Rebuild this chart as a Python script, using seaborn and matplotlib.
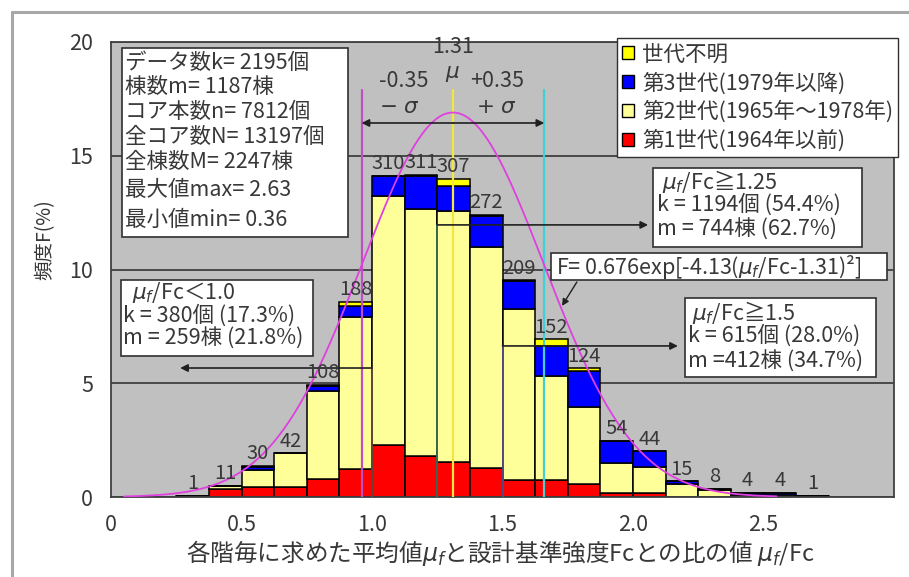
import numpy as np
import pandas as pd
import matplotlib
matplotlib.use("Agg")
import matplotlib.pyplot as plt
from matplotlib.patches import Rectangle, Patch
from matplotlib.lines import Line2D
import seaborn as sns

# ---- data -------------------------------------------------------------
# left edges of the mu_f/Fc classes (class width 0.125)
bin_left = [0.25, 0.375, 0.5, 0.625, 0.75, 0.875, 1.0, 1.125, 1.25, 1.375,
            1.5, 1.625, 1.75, 1.875, 2.0, 2.125, 2.25, 2.375, 2.5, 2.625]
bin_width = 0.125

# number of data (floors) per class and construction generation
gen1 = [0, 8, 10, 10, 17, 27, 50, 40, 34, 28, 16, 16, 13, 4, 4, 0, 0, 0, 0, 0]
gen2 = [1, 3, 16, 32, 85, 147, 240, 238, 242, 213, 165, 101, 74, 29, 25, 13, 7, 2, 2, 1]
gen3 = [0, 0, 3, 0, 5, 10, 20, 32, 24, 30, 27, 29, 35, 21, 15, 2, 1, 2, 2, 0]
gen_unknown = [0, 0, 1, 0, 1, 4, 0, 1, 7, 1, 1, 6, 2, 0, 0, 0, 0, 0, 0, 0]

generation_labels = ["世代不明", "第3世代(1979年以降)",
                     "第2世代(1965年～1978年)", "第1世代(1964年以前)"]
generation_colors = ["#FFFF00", "#0000FF", "#FFFF99", "#FF0000"]

# fitted normal curve  F = 0.676 exp[-4.13 (x - 1.31)^2]
mean_ratio = 1.31
sigma = 0.35
fit_amp = 0.676
fit_coef = 4.13
curve_scale = 25.0  # curve drawn on the percent axis

x_ticks = [0, 0.5, 1.0, 1.5, 2.0, 2.5]
x_tick_labels = ["0", "0.5", "1.0", "1.5", "2.0", "2.5"]
y_ticks = [0, 5, 10, 15, 20]
y_tick_labels = ["0", "5", "10", "15", "20"]

stats_lines = ["データ数k= 2195個", "棟数m= 1187棟", "コア本数n= 7812個",
               "全コア数N= 13197個", "全棟数M= 2247棟", "最大値max= 2.63",
               "最小値min= 0.36"]

# ---- style ------------------------------------------------------------
sns.set_style("white")
plt.rcParams["font.family"] = ["Noto Sans CJK JP", "DejaVu Sans"]
plt.rcParams["mathtext.fontset"] = "dejavusans"
TXT = "#383838"
FS = 15.5

counts = np.array([gen_unknown, gen3, gen2, gen1], dtype=float)
totals = counts.sum(axis=0)
n_total = totals.sum()
centers = np.array(bin_left) + bin_width / 2
edges = list(bin_left) + [bin_left[-1] + bin_width]

rows = []
for lab, cnt in zip(generation_labels, counts):
    for c, v in zip(centers, cnt):
        rows.append({"ratio": c, "freq": v / n_total * 100, "generation": lab})
df = pd.DataFrame(rows)

fig = plt.figure(figsize=(9.09, 5.77), dpi=100)
ax = fig.add_axes([111 / 909, 1 - 497 / 577, 783 / 909, 455 / 577])
ax.set_facecolor("#C0C0C0")

# outer chart frame
fig.add_artist(Line2D([12 / 909, 12 / 909], [0, 1 - 12 / 577], color="#A8A8A8", lw=2.2))
fig.add_artist(Line2D([12 / 909, 1], [1 - 12 / 577, 1 - 12 / 577], color="#A8A8A8", lw=2.2))

sns.histplot(data=df, x="ratio", weights="freq", hue="generation",
             hue_order=generation_labels,
             palette=dict(zip(generation_labels, generation_colors)),
             multiple="stack", bins=edges, edgecolor="black", linewidth=1.1,
             alpha=1, legend=False, ax=ax, zorder=2)

# count labels above the bars
for c, t in zip(centers, totals):
    ax.text(c, t / n_total * 100 + 0.08, f"{int(t)}", ha="center", va="bottom",
            fontsize=14.5, color=TXT, zorder=6)

# fitted curve
xc = np.linspace(0.05, 2.55, 300)
yc = curve_scale * fit_amp * np.exp(-fit_coef * (xc - mean_ratio) ** 2)
sns.lineplot(x=xc, y=yc, color="#E040E0", lw=1.3, ax=ax, zorder=4)

# mean and +-sigma lines
ref_top = 17.9
ax.plot([mean_ratio - sigma] * 2, [0, ref_top], color="#C050C0", lw=1.6, zorder=3)
ax.plot([mean_ratio] * 2, [0, ref_top], color="#F2E640", lw=1.6, zorder=3)
ax.plot([mean_ratio + sigma] * 2, [0, ref_top], color="#40D0D8", lw=1.6, zorder=3)

arrow_kw = dict(arrowstyle="-|>", color="#202020", lw=1.2, mutation_scale=11,
                shrinkA=0, shrinkB=0)
ax.annotate("", xy=(mean_ratio - sigma, 16.44), xytext=(mean_ratio, 16.44),
            arrowprops=arrow_kw, zorder=5)
ax.annotate("", xy=(mean_ratio + sigma, 16.44), xytext=(mean_ratio, 16.44),
            arrowprops=arrow_kw, zorder=5)

# threshold lines and arrows to the summary boxes
ax.plot([1.25, 1.25], [0, 11.96], color="#3E6E55", lw=1.3, zorder=3)
ax.annotate("", xy=(2.058, 11.96), xytext=(1.25, 11.96), arrowprops=arrow_kw, zorder=5)
ax.plot([1.5, 1.5], [0, 6.64], color="#5A4E90", lw=1.3, zorder=3)
ax.annotate("", xy=(2.172, 6.64), xytext=(1.5, 6.64), arrowprops=arrow_kw, zorder=5)
ax.plot([1.0, 1.0], [0, 5.67], color="#6A4A3A", lw=1.3, zorder=3)
ax.annotate("", xy=(0.265, 5.67), xytext=(1.0, 5.67), arrowprops=arrow_kw, zorder=5)

# mean / sigma annotations
ax.text(mean_ratio, 19.78, "1.31", ha="center", va="center", fontsize=FS, color=TXT)
ax.text(mean_ratio, 18.64, r"$\mu$", ha="center", va="center", fontsize=FS, color=TXT)
ax.text(1.123, 18.29, "-0.35", ha="center", va="center", fontsize=FS, color=TXT)
ax.text(1.479, 18.29, "+0.35", ha="center", va="center", fontsize=FS, color=TXT)
ax.text(1.107, 17.14, r"$-\ \sigma$", ha="center", va="center", fontsize=FS, color=TXT)
ax.text(1.479, 17.14, r"$+\ \sigma$", ha="center", va="center", fontsize=FS, color=TXT)


def box(x0, x1, y0, y1):
    ax.add_patch(Rectangle((x0, y0), x1 - x0, y1 - y0, facecolor="white",
                           edgecolor="#303030", lw=1.2, zorder=7))


# statistics box
box(0.042, 0.908, 11.43, 19.74)
for line, y in zip(stats_lines, [19.08, 18.02, 16.92, 15.82, 14.73, 13.49, 12.18]):
    ax.text(0.054, y, line, ha="left", va="center", fontsize=FS, color=TXT, zorder=8)

# ratio < 1.0 box
box(0.038, 0.774, 6.20, 9.54)
ax.text(0.080, 9.01, r"$\mu_f$/Fc＜1.0", ha="left", va="center", fontsize=FS, color=TXT, zorder=8)
ax.text(0.046, 7.96, "k = 380個 (17.3%)", ha="left", va="center", fontsize=FS, color=TXT, zorder=8)
ax.text(0.046, 6.95, "m = 259棟 (21.8%)", ha="left", va="center", fontsize=FS, color=TXT, zorder=8)

# ratio >= 1.25 box
box(2.077, 2.877, 10.99, 14.46)
ax.text(2.111, 13.85, r"$\mu_f$/Fc≧1.25", ha="left", va="center", fontsize=FS, color=TXT, zorder=8)
ax.text(2.092, 12.84, "k = 1194個 (54.4%)", ha="left", va="center", fontsize=FS, color=TXT, zorder=8)
ax.text(2.092, 11.74, "m = 744棟 (62.7%)", ha="left", va="center", fontsize=FS, color=TXT, zorder=8)

# ratio >= 1.5 box
box(2.199, 2.931, 5.27, 8.75)
ax.text(2.226, 8.09, r"$\mu_f$/Fc≧1.5", ha="left", va="center", fontsize=FS, color=TXT, zorder=8)
ax.text(2.211, 7.08, "k = 615個 (28.0%)", ha="left", va="center", fontsize=FS, color=TXT, zorder=8)
ax.text(2.211, 5.93, "m =412棟 (34.7%)", ha="left", va="center", fontsize=FS, color=TXT, zorder=8)

# fitted formula box with leader
box(1.686, 2.975, 9.54, 10.73)
ax.text(1.705, 10.11, rf"F= {fit_amp}exp[-{fit_coef}($\mu_f$/Fc-{mean_ratio})²]",
        ha="left", va="center", fontsize=FS, color=TXT, zorder=8)
ax.annotate("", xy=(1.728, 8.40), xytext=(1.785, 9.45),
            arrowprops=dict(arrowstyle="-|>", color="#202020", lw=1.0,
                            mutation_scale=10, shrinkA=0, shrinkB=0), zorder=5)

# axes
ax.set_xlim(0, 3.0)
ax.set_ylim(0, 20)
ax.set_xticks(x_ticks, x_tick_labels)
ax.set_yticks(y_ticks, y_tick_labels)
ax.tick_params(axis="both", length=0, labelsize=FS, labelcolor=TXT)
ax.tick_params(axis="x", pad=12)
ax.tick_params(axis="y", pad=13)
ax.grid(axis="y", color="#404040", lw=1.3)
ax.set_axisbelow(True)
for s in ax.spines.values():
    s.set_color("#404040")
    s.set_linewidth(1.3)
    s.set_visible(True)

ax.set_xlabel(r"各階毎に求めた平均値$\mu_f$と設計基準強度Fcとの比の値 $\mu_f$/Fc",
              fontsize=17, color=TXT)
ax.xaxis.set_label_coords(0.497, -0.09)
ax.set_ylabel("")
fig.text(45 / 909, 1 - 240 / 577, "頻度F(%)", rotation=90, ha="center", va="center",
         fontsize=14, color=TXT)

# legend
handles = [Patch(facecolor=c, edgecolor="black", lw=1.0, label=l)
           for l, c in zip(generation_labels, generation_colors)]
fig.legend(handles=handles, loc="upper left", bbox_to_anchor=(617 / 909, 1 - 38 / 577),
           frameon=True, fancybox=False, edgecolor="#303030", framealpha=1,
           fontsize=FS, handlelength=0.55, handleheight=0.55, handletextpad=0.35,
           labelspacing=0.3, borderpad=0.25, borderaxespad=0, labelcolor=TXT)

fig.savefig("out.png", dpi=100)
